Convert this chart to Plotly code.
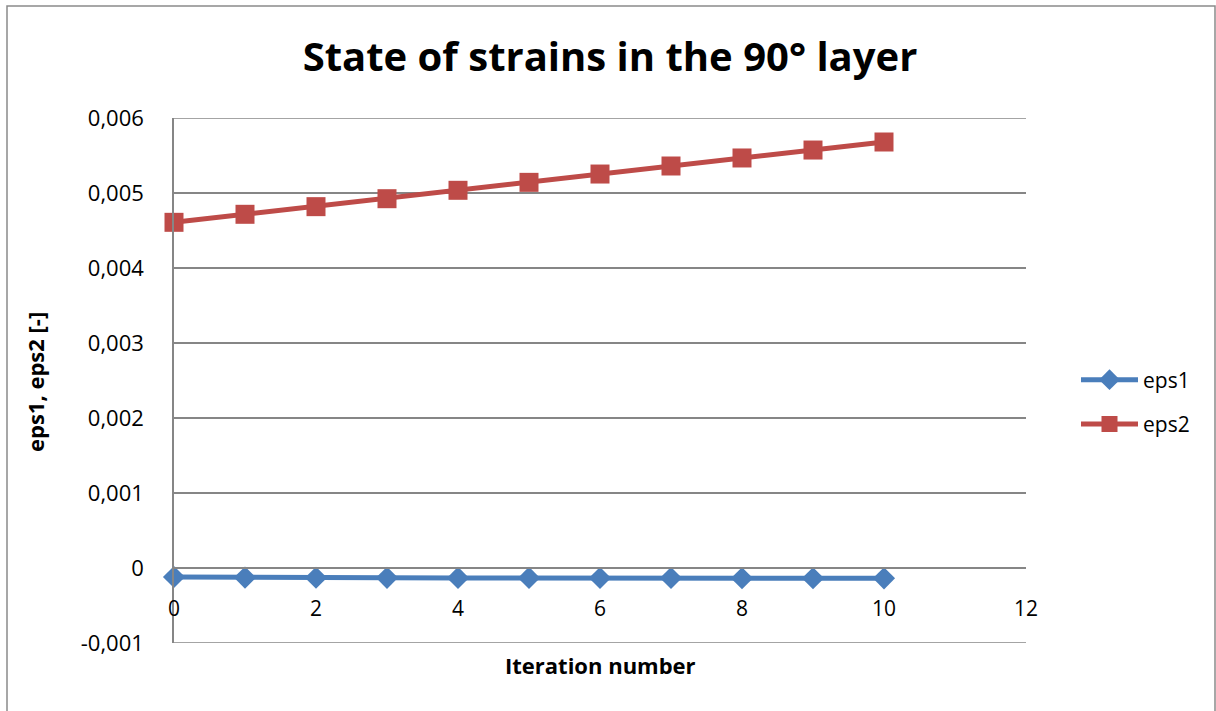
import plotly.graph_objects as go

iterations = [0, 1, 2, 3, 4, 5, 6, 7, 8, 9, 10]
eps1 = [-0.000120, -0.000128, -0.000129, -0.000131, -0.000132, -0.000132,
        -0.000133, -0.000133, -0.000136, -0.000137, -0.000138]
eps2 = [0.004609, 0.004716, 0.004818, 0.004924, 0.005036, 0.005142,
        0.005253, 0.005360, 0.005467, 0.005573, 0.005680]

y_tickvals = [-0.001, 0, 0.001, 0.002, 0.003, 0.004, 0.005, 0.006]
y_ticktext = ["-0,001", "0", "0,001", "0,002", "0,003", "0,004", "0,005", "0,006"]
x_tickvals = [0, 2, 4, 6, 8, 10, 12]
x_ticktext = ["0", "2", "4", "6", "8", "10", "12"]

FONT = "Open Sans"
GRID = "#868686"

fig = go.Figure()
fig.add_trace(go.Scatter(
    x=iterations, y=eps1, name="eps1", mode="lines+markers",
    line=dict(color="#4A7EBB", width=5),
    marker=dict(symbol="diamond", size=17, color="#4A7EBB"),
    legendgroup="a", cliponaxis=False,
))
fig.add_trace(go.Scatter(
    x=iterations, y=eps2, name="eps2", mode="lines+markers",
    line=dict(color="#BE4B48", width=5),
    marker=dict(symbol="square", size=19, color="#BE4B48"),
    legendgroup="b", cliponaxis=False,
))

L, R, T, B = 174, 190, 118, 68
W, H = 1216, 711
pw, ph = W - L - R, H - T - B

# edge gridlines (plotly culls grid lines at the range ends)
edge_grid = [dict(type="line", xref="paper", yref="y", x0=0, x1=1,
                  y0=v, y1=v, line=dict(color=GRID, width=1.5), layer="below")
             for v in (y_tickvals[0], y_tickvals[-1])]

fig.update_layout(
    width=W, height=H,
    margin=dict(l=L, r=R, t=T, b=B),
    paper_bgcolor="white", plot_bgcolor="white",
    font=dict(family=FONT, color="black", size=21),
    title=dict(text="<b>State of strains in the 90° layer</b>",
               x=(610 - L) / pw, xanchor="center", xref="paper", y=1 - 57 / H, yanchor="middle",
               font=dict(family=FONT, size=40, color="black")),
    showlegend=True,
    legend=dict(x=(1076 - L) / pw, xanchor="left", y=1 - (402 - T) / ph, yanchor="middle",
                font=dict(family=FONT, size=21), tracegroupgap=14, itemwidth=57,
                bgcolor="rgba(0,0,0,0)"),
    xaxis=dict(range=[0, 12], tickvals=x_tickvals, ticktext=x_ticktext,
               showgrid=False, zeroline=False, showline=True, linecolor=GRID, linewidth=1.5,
               anchor="free", position=1 / 7, ticks="", ticklabelstandoff=22,
               tickfont=dict(family=FONT, size=21)),
    yaxis=dict(range=[y_tickvals[0], y_tickvals[-1]], tickvals=y_tickvals, ticktext=y_ticktext,
               showgrid=True, gridcolor=GRID, gridwidth=1.5, zeroline=False,
               showline=True, linecolor=GRID, linewidth=1.5, ticks="",
               ticklabelstandoff=24, tickfont=dict(family=FONT, size=22)),
    shapes=[dict(type="rect", xref="paper", yref="paper",
                 x0=(7 - L) / pw, x1=(1215 - L) / pw,
                 y0=-0.3, y1=1 + (T - 6) / ph,
                 line=dict(color="#8A8A8A", width=1.5), layer="below")] + edge_grid,
    annotations=[
        dict(text="<b>Iteration number</b>", xref="paper", yref="paper",
             x=(600 - L) / pw, y=-(665 - (T + ph)) / ph, xanchor="center", yanchor="middle",
             showarrow=False, font=dict(family=FONT, size=22)),
        dict(text="<b>eps1, eps2 [-]</b>", xref="paper", yref="paper",
             x=-(L - 35) / pw, y=1 - (382 - T) / ph, xanchor="center", yanchor="middle",
             textangle=-90, showarrow=False, font=dict(family=FONT, size=22)),
    ],
)

fig.write_html("out.html")
